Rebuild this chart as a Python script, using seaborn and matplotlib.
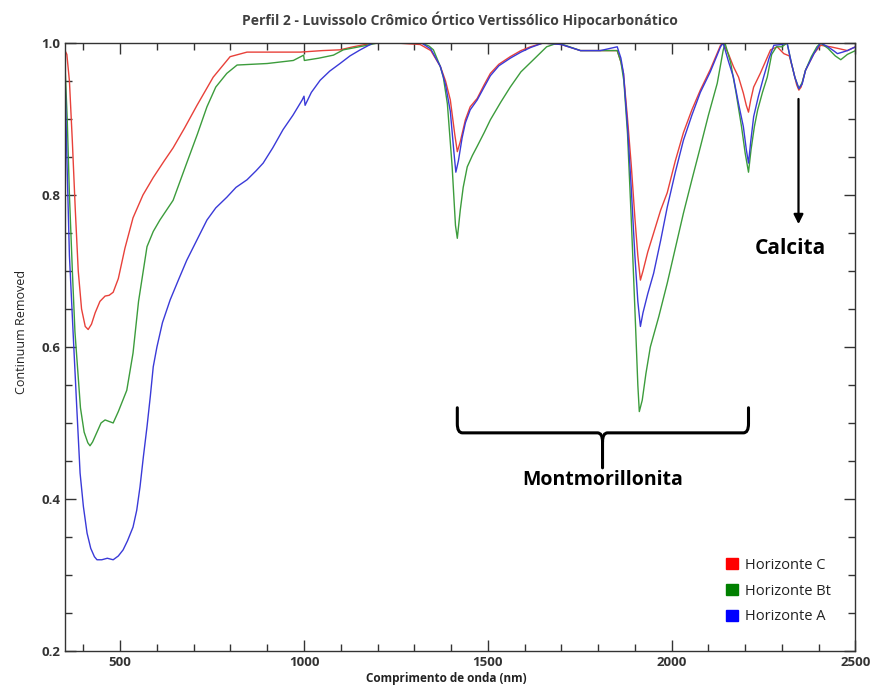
import numpy as np
import pandas as pd
import matplotlib
matplotlib.use('Agg')
import matplotlib.pyplot as plt
from matplotlib.patches import Patch
from matplotlib.path import Path
from matplotlib.patches import PathPatch
import seaborn as sns

# Horizonte C (red)
wl_c = [350, 355, 362, 370, 378, 386, 395, 405, 413, 422, 432, 445, 459, 470, 481, 495, 513, 535,
        562, 590, 620, 644, 675, 709, 753, 799, 845, 900, 990, 1050, 1098, 1134, 1188, 1250, 1316,
        1345, 1371, 1385, 1398, 1410, 1417, 1425, 1439, 1452, 1471, 1490, 1507, 1530, 1561, 1590,
        1616, 1650, 1700, 1752, 1806, 1852, 1862, 1869, 1880, 1890, 1900, 1908, 1915, 1922, 1935,
        1951, 1970, 1988, 2010, 2032, 2055, 2078, 2105, 2133, 2140, 2155, 2168, 2182, 2195, 2203,
        2209, 2215, 2223, 2241, 2269, 2287, 2305, 2320, 2330, 2340, 2346, 2352, 2364, 2387, 2405,
        2432, 2451, 2478, 2500]
cr_c = [0.99, 0.985, 0.95, 0.87, 0.78, 0.70, 0.65, 0.627, 0.623, 0.63, 0.645, 0.66, 0.667, 0.668,
        0.672, 0.69, 0.73, 0.77, 0.80, 0.823, 0.845, 0.862, 0.888, 0.918, 0.955, 0.982, 0.988, 0.988,
        0.988, 0.99, 0.991, 0.995, 1.0, 1.0, 0.998, 0.99, 0.969, 0.95, 0.925, 0.88, 0.857, 0.87,
        0.899, 0.916, 0.927, 0.945, 0.96, 0.972, 0.982, 0.99, 0.995, 1.0, 0.998, 0.99, 0.99, 0.99,
        0.975, 0.96, 0.90, 0.84, 0.77, 0.72, 0.688, 0.70, 0.725, 0.75, 0.78, 0.803, 0.845, 0.882,
        0.912, 0.938, 0.965, 0.997, 1.0, 0.985, 0.969, 0.955, 0.934, 0.918, 0.909, 0.925, 0.942,
        0.96, 0.991, 0.995, 0.986, 0.983, 0.965, 0.945, 0.938, 0.942, 0.964, 0.986, 0.997, 0.995,
        0.993, 0.99, 0.995]

# Horizonte Bt (green)
wl_bt = [350, 356, 362, 370, 377, 383, 392, 402, 412, 418, 425, 437, 448, 459, 470, 481, 495, 518,
         535, 550, 573, 590, 608, 644, 681, 710, 736, 760, 790, 818, 900, 971, 999, 1001, 1040, 1080,
         1107, 1172, 1200, 1320, 1340, 1352, 1370, 1379, 1390, 1403, 1412, 1417, 1425, 1433, 1444,
         1458, 1471, 1490, 1507, 1535, 1561, 1590, 1624, 1660, 1690, 1710, 1752, 1806, 1852, 1862,
         1870, 1880, 1890, 1900, 1908, 1912, 1920, 1930, 1942, 1965, 1988, 2010, 2032, 2055, 2078,
         2100, 2124, 2140, 2145, 2160, 2175, 2190, 2200, 2209, 2216, 2225, 2234, 2247, 2260, 2272,
         2285, 2300, 2314, 2325, 2335, 2346, 2355, 2364, 2380, 2395, 2405, 2425, 2445, 2460, 2478, 2500]
cr_bt = [0.97, 0.90, 0.80, 0.70, 0.62, 0.58, 0.52, 0.488, 0.474, 0.470, 0.475, 0.488, 0.50, 0.504,
         0.502, 0.50, 0.515, 0.543, 0.592, 0.66, 0.732, 0.752, 0.767, 0.793, 0.842, 0.88, 0.916, 0.942,
         0.96, 0.971, 0.973, 0.977, 0.984, 0.977, 0.98, 0.984, 0.991, 0.997, 1.0, 1.0, 0.996, 0.991,
         0.97, 0.955, 0.92, 0.837, 0.76, 0.743, 0.78, 0.81, 0.837, 0.852, 0.864, 0.882, 0.899, 0.922,
         0.942, 0.962, 0.978, 0.995, 1.0, 0.997, 0.99, 0.99, 0.99, 0.975, 0.95, 0.88, 0.77, 0.65,
         0.55, 0.515, 0.53, 0.565, 0.60, 0.64, 0.684, 0.73, 0.776, 0.82, 0.863, 0.905, 0.947, 0.99,
         1.0, 0.975, 0.935, 0.89, 0.855, 0.830, 0.86, 0.89, 0.912, 0.935, 0.955, 0.985, 0.995, 0.995,
         1.0, 0.975, 0.955, 0.94, 0.948, 0.964, 0.982, 0.995, 1.0, 0.993, 0.983, 0.978, 0.985, 0.99]

# Horizonte A (blue)
wl_a = [350, 355, 362, 373, 382, 391, 400, 410, 420, 430, 437, 450, 465, 481, 495, 508, 520, 535,
        545, 554, 563, 573, 582, 590, 600, 615, 636, 660, 681, 710, 736, 760, 790, 815, 845, 870,
        889, 915, 943, 970, 995, 1000, 1003, 1020, 1044, 1070, 1098, 1125, 1153, 1188, 1320, 1345,
        1371, 1385, 1398, 1408, 1413, 1420, 1430, 1439, 1452, 1471, 1490, 1507, 1530, 1561, 1590,
        1616, 1650, 1700, 1752, 1806, 1852, 1862, 1869, 1880, 1890, 1900, 1908, 1915, 1922, 1935,
        1951, 1970, 1988, 2010, 2032, 2055, 2078, 2105, 2133, 2140, 2155, 2168, 2182, 2195, 2203,
        2209, 2215, 2223, 2236, 2250, 2265, 2278, 2300, 2314, 2325, 2335, 2346, 2355, 2364, 2387,
        2405, 2425, 2440, 2451, 2465, 2478, 2500]
cr_a = [0.96, 0.85, 0.72, 0.609, 0.52, 0.434, 0.39, 0.355, 0.335, 0.324, 0.32, 0.32, 0.322, 0.32,
        0.325, 0.333, 0.345, 0.363, 0.385, 0.416, 0.455, 0.495, 0.535, 0.574, 0.60, 0.632, 0.662,
        0.69, 0.714, 0.742, 0.767, 0.783, 0.797, 0.81, 0.82, 0.832, 0.842, 0.862, 0.886, 0.905, 0.925,
        0.930, 0.918, 0.935, 0.951, 0.963, 0.973, 0.983, 0.991, 1.0, 1.0, 0.992, 0.969, 0.945, 0.91,
        0.855, 0.830, 0.845, 0.875, 0.895, 0.912, 0.925, 0.942, 0.957, 0.97, 0.98, 0.988, 0.994, 1.0,
        0.998, 0.99, 0.99, 0.995, 0.98, 0.96, 0.89, 0.81, 0.72, 0.66, 0.627, 0.645, 0.67, 0.697,
        0.74, 0.784, 0.83, 0.872, 0.905, 0.935, 0.962, 0.995, 1.0, 0.975, 0.955, 0.92, 0.89, 0.86,
        0.842, 0.87, 0.903, 0.93, 0.955, 0.98, 0.997, 0.998, 1.0, 0.975, 0.955, 0.94, 0.946, 0.964,
        0.986, 1.0, 0.995, 0.99, 0.986, 0.988, 0.99, 0.995]

horizons = ['Horizonte C', 'Horizonte Bt', 'Horizonte A']
line_colors = {'Horizonte C': '#e8413a', 'Horizonte Bt': '#3c9c3c', 'Horizonte A': '#3a3ad8'}
legend_colors = ['#ff0000', '#008000', '#0000ff']

df = pd.concat([
    pd.DataFrame({'wl': wl_c, 'cr': cr_c, 'Horizonte': 'Horizonte C'}),
    pd.DataFrame({'wl': wl_bt, 'cr': cr_bt, 'Horizonte': 'Horizonte Bt'}),
    pd.DataFrame({'wl': wl_a, 'cr': cr_a, 'Horizonte': 'Horizonte A'}),
], ignore_index=True)

sns.set_style('ticks')
plt.rcParams['font.family'] = ['Open Sans', 'DejaVu Sans']

fig = plt.figure(figsize=(8.75, 6.89), dpi=100)
ax = fig.add_axes([0.0743, 0.0552, 0.9034, 0.8824])

sns.lineplot(data=df, x='wl', y='cr', hue='Horizonte', palette=line_colors,
             estimator=None, sort=False, lw=1.0, legend=False, ax=ax)

ax.set_xlim(350, 2500)
ax.set_ylim(0.2, 1.0)
ax.set_xticks([500, 1000, 1500, 2000, 2500])
ax.set_xticks(np.arange(400, 2500, 100), minor=True)
ax.set_yticks([0.2, 0.4, 0.6, 0.8, 1.0])
ax.set_yticks(np.arange(0.25, 1.0, 0.05), minor=True)
ax.set_yticklabels(['0.2', '0.4', '0.6', '0.8', '1.0'])
ax.tick_params(which='both', direction='in', top=True, right=True, colors='#333333',
               labelsize=9.5, width=1)
ax.tick_params(which='major', length=8)
ax.tick_params(which='minor', length=5)
for lbl in ax.get_xticklabels() + ax.get_yticklabels():
    lbl.set_fontweight('bold')
    lbl.set_color('#333333')
for spine in ax.spines.values():
    spine.set_visible(True)
    spine.set_color('#333333')
    spine.set_linewidth(1.0)

ax.set_title('Perfil 2 - Luvissolo Crômico Órtico Vertissólico Hipocarbonático',
             fontsize=10, fontweight='bold', color='#404040', pad=13)
ax.set_xlabel('Comprimento de onda (nm)', fontsize=8.5, fontweight='bold', color='#222222')
ax.set_ylabel('Continuum Removed', fontsize=9, color='#222222')
ax.xaxis.set_label_coords(0.482, -0.035)
ax.yaxis.set_label_coords(-0.047, 0.525)

# Montmorillonita brace
bx0, bx1, bxm = 1417, 2209, 1812
by_top, by_bar, by_tip = 0.52, 0.487, 0.441
dx, dy = 14, 0.012
verts = [(bx0, by_top), (bx0, by_bar + dy), (bx0, by_bar), (bx0 + dx, by_bar),
         (bxm - dx, by_bar), (bxm, by_bar), (bxm, by_bar - dy), (bxm, by_tip)]
codes = [Path.MOVETO, Path.LINETO, Path.CURVE3, Path.CURVE3,
         Path.LINETO, Path.CURVE3, Path.CURVE3, Path.LINETO]
verts2 = [(bx1, by_top), (bx1, by_bar + dy), (bx1, by_bar), (bx1 - dx, by_bar),
          (bxm + dx, by_bar), (bxm, by_bar), (bxm, by_bar - dy)]
codes2 = [Path.MOVETO, Path.LINETO, Path.CURVE3, Path.CURVE3,
          Path.LINETO, Path.CURVE3, Path.CURVE3]
for v, c in [(verts, codes), (verts2, codes2)]:
    ax.add_patch(PathPatch(Path(v, c), fill=False, lw=2.2, color='black', capstyle='round'))
ax.text(bxm, 0.425, 'Montmorillonita', ha='center', va='center', fontsize=14,
        fontweight='bold', color='black')

# Calcita arrow
ax.annotate('', xy=(2345, 0.758), xytext=(2345, 0.93),
            arrowprops=dict(arrowstyle='-|>', lw=1.6, color='black', mutation_scale=14))
ax.text(2323, 0.729, 'Calcita', ha='center', va='center', fontsize=15,
        fontweight='bold', color='black')

handles = [Patch(facecolor=c, edgecolor=c) for c in legend_colors]
ax.legend(handles, horizons, loc='lower right', bbox_to_anchor=(0.985, 0.022), frameon=False,
          fontsize=10.5, handlelength=0.85, handleheight=0.85, handletextpad=0.45,
          labelspacing=0.75, labelcolor='#222222')

fig.savefig('out.png', dpi=100, facecolor='white')
